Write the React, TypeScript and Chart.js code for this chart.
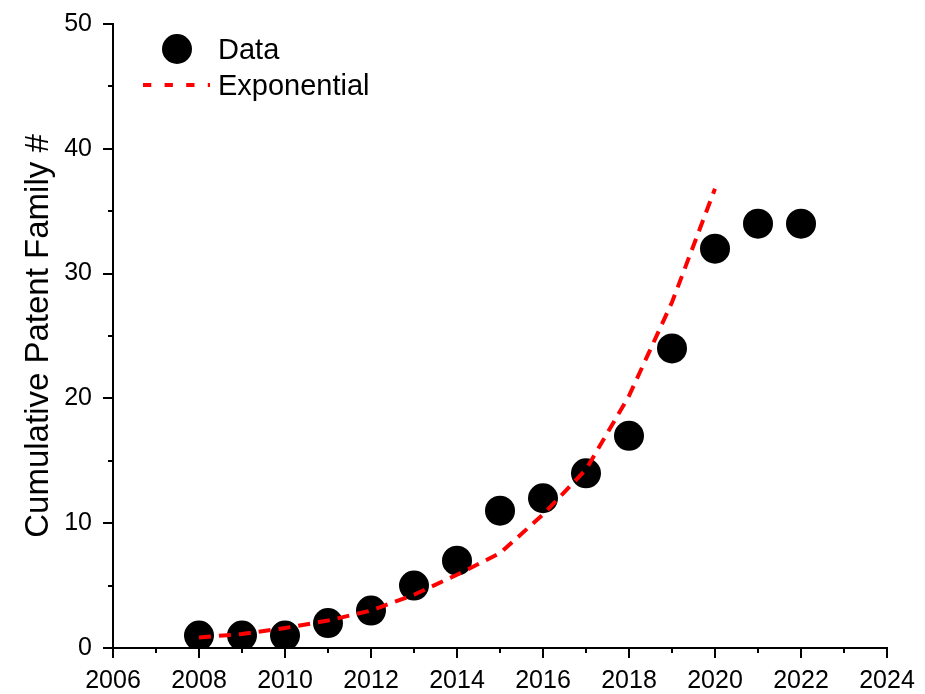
import React, { useEffect, useRef } from 'react';
import { Chart, registerables } from 'chart.js';

Chart.register(...registerables);

// ---- data ----
const years = [2008, 2009, 2010, 2011, 2012, 2013, 2014, 2015, 2016, 2017, 2018, 2019, 2020, 2021, 2022];
const patentCounts = [1, 1, 1, 2, 3, 5, 7, 11, 12, 14, 17, 24, 32, 34, 34];

const fitYears = [2008, 2009, 2010, 2011, 2012, 2013, 2014, 2015, 2016, 2017, 2018, 2019, 2020];
const fitValues = [0.85, 1.12, 1.6, 2.2, 3.0, 4.27, 5.87, 7.6, 10.7, 14.3, 20.2, 27.7, 36.8];

const xMin = 2006;
const xMax = 2024;
const xMajorStep = 2;
const xMinorStep = 1;
const yMin = 0;
const yMax = 50;
const yMajorStep = 10;
const yMinorStep = 5;

const yTitle = 'Cumulative Patent Family #';
const legendLabels = ['Data', 'Exponential'];

const FONT = '"Liberation Sans", Arial, Helvetica, sans-serif';
const RED = '#ff0000';

const originTicksAndLegend = {
  id: 'originTicksAndLegend',
  afterDraw(chart: any) {
    const ctx = chart.ctx as CanvasRenderingContext2D;
    const xs = chart.scales.x;
    const ys = chart.scales.y;
    const { left, top, bottom } = chart.chartArea;
    ctx.save();
    ctx.strokeStyle = '#000';
    ctx.lineWidth = 2;
    ctx.lineCap = 'butt';
    ctx.beginPath();
    for (let v = xMin; v <= xMax + 1e-9; v += xMinorStep) {
      const px = Math.round(xs.getPixelForValue(v));
      const major = Math.abs((v - xMin) % xMajorStep) < 1e-9;
      const len = major ? 10 : 5;
      ctx.moveTo(px, bottom);
      ctx.lineTo(px, bottom + len);
    }
    for (let v = yMin; v <= yMax + 1e-9; v += yMinorStep) {
      const py = Math.round(ys.getPixelForValue(v));
      const major = Math.abs((v - yMin) % yMajorStep) < 1e-9;
      const len = major ? 10 : 5;
      ctx.moveTo(left, py);
      ctx.lineTo(left - len, py);
    }
    ctx.stroke();

    // legend (inside plot, top-left)
    const markerX = left + 64;
    const textX = left + 105;
    const row1 = top + 25;
    const row2 = top + 61;
    ctx.fillStyle = '#000';
    ctx.beginPath();
    ctx.arc(markerX, row1, 15, 0, Math.PI * 2);
    ctx.fill();

    ctx.strokeStyle = RED;
    ctx.lineWidth = 4;
    ctx.setLineDash([8.3, 13.3]);
    ctx.beginPath();
    ctx.moveTo(left + 30, row2);
    ctx.lineTo(left + 97, row2);
    ctx.stroke();
    ctx.setLineDash([]);

    ctx.fillStyle = '#000';
    ctx.font = `29px ${FONT}`;
    ctx.textAlign = 'left';
    ctx.textBaseline = 'alphabetic';
    ctx.fillText(legendLabels[0], textX, row1 + 10);
    ctx.fillText(legendLabels[1], textX, row2 + 10);
    ctx.restore();
  },
};

export default function App() {
  const canvasRef = useRef<HTMLCanvasElement | null>(null);

  useEffect(() => {
    const canvas = canvasRef.current;
    if (!canvas) return;
    const chart = new Chart(canvas, {
      type: 'scatter',
      data: {
        datasets: [
          {
            label: legendLabels[1],
            type: 'line',
            data: fitYears.map((x, i) => ({ x, y: fitValues[i] })),
            borderColor: RED,
            borderWidth: 4,
            borderDash: [12, 8],
            borderCapStyle: 'butt',
            pointRadius: 0,
            fill: false,
            tension: 0,
            order: 0,
          } as any,
          {
            label: legendLabels[0],
            type: 'scatter',
            data: years.map((x, i) => ({ x, y: patentCounts[i] })),
            backgroundColor: '#000',
            borderWidth: 0,
            pointRadius: 15,
            pointHoverRadius: 15,
            order: 1,
          } as any,
        ],
      },
      options: {
        animation: false,
        responsive: false,
        maintainAspectRatio: false,
        events: [],
        layout: { padding: { left: 0, top: 24, right: 38, bottom: 0 } },
        plugins: {
          legend: { display: false },
          tooltip: { enabled: false },
        },
        scales: {
          x: {
            type: 'linear',
            position: 'bottom',
            min: xMin,
            max: xMax,
            grid: {
              display: true,
              drawOnChartArea: false,
              drawTicks: true,
              tickLength: 18,
              tickColor: 'rgba(0,0,0,0)',
            },
            border: { display: true, color: '#000', width: 2 },
            ticks: {
              stepSize: xMajorStep,
              autoSkip: false,
              maxRotation: 0,
              padding: 0,
              color: '#000',
              font: { family: FONT, size: 25 },
              callback: (v: any) => String(v),
            },
            afterFit: (s: any) => {
              s.height = 46;
            },
          },
          y: {
            type: 'linear',
            position: 'left',
            min: yMin,
            max: yMax,
            grid: {
              display: true,
              drawOnChartArea: false,
              drawTicks: true,
              tickLength: 21,
              tickColor: 'rgba(0,0,0,0)',
            },
            border: { display: true, color: '#000', width: 2 },
            ticks: {
              stepSize: yMajorStep,
              padding: 0,
              color: '#000',
              font: { family: FONT, size: 25 },
              callback: (v: any) => String(v),
            },
            title: {
              display: true,
              text: yTitle,
              color: '#000',
              font: { family: FONT, size: 33, weight: 'normal' },
              padding: { top: 19, bottom: 0 },
            },
            afterFit: (s: any) => {
              s.width = 113;
            },
          },
        },
      },
      plugins: [originTicksAndLegend],
    });
    return () => chart.destroy();
  }, []);

  return (
    <canvas
      ref={canvasRef}
      width={925}
      height={694}
      style={{ position: 'absolute', left: 0, top: 0, width: 925, height: 694 }}
    />
  );
}
